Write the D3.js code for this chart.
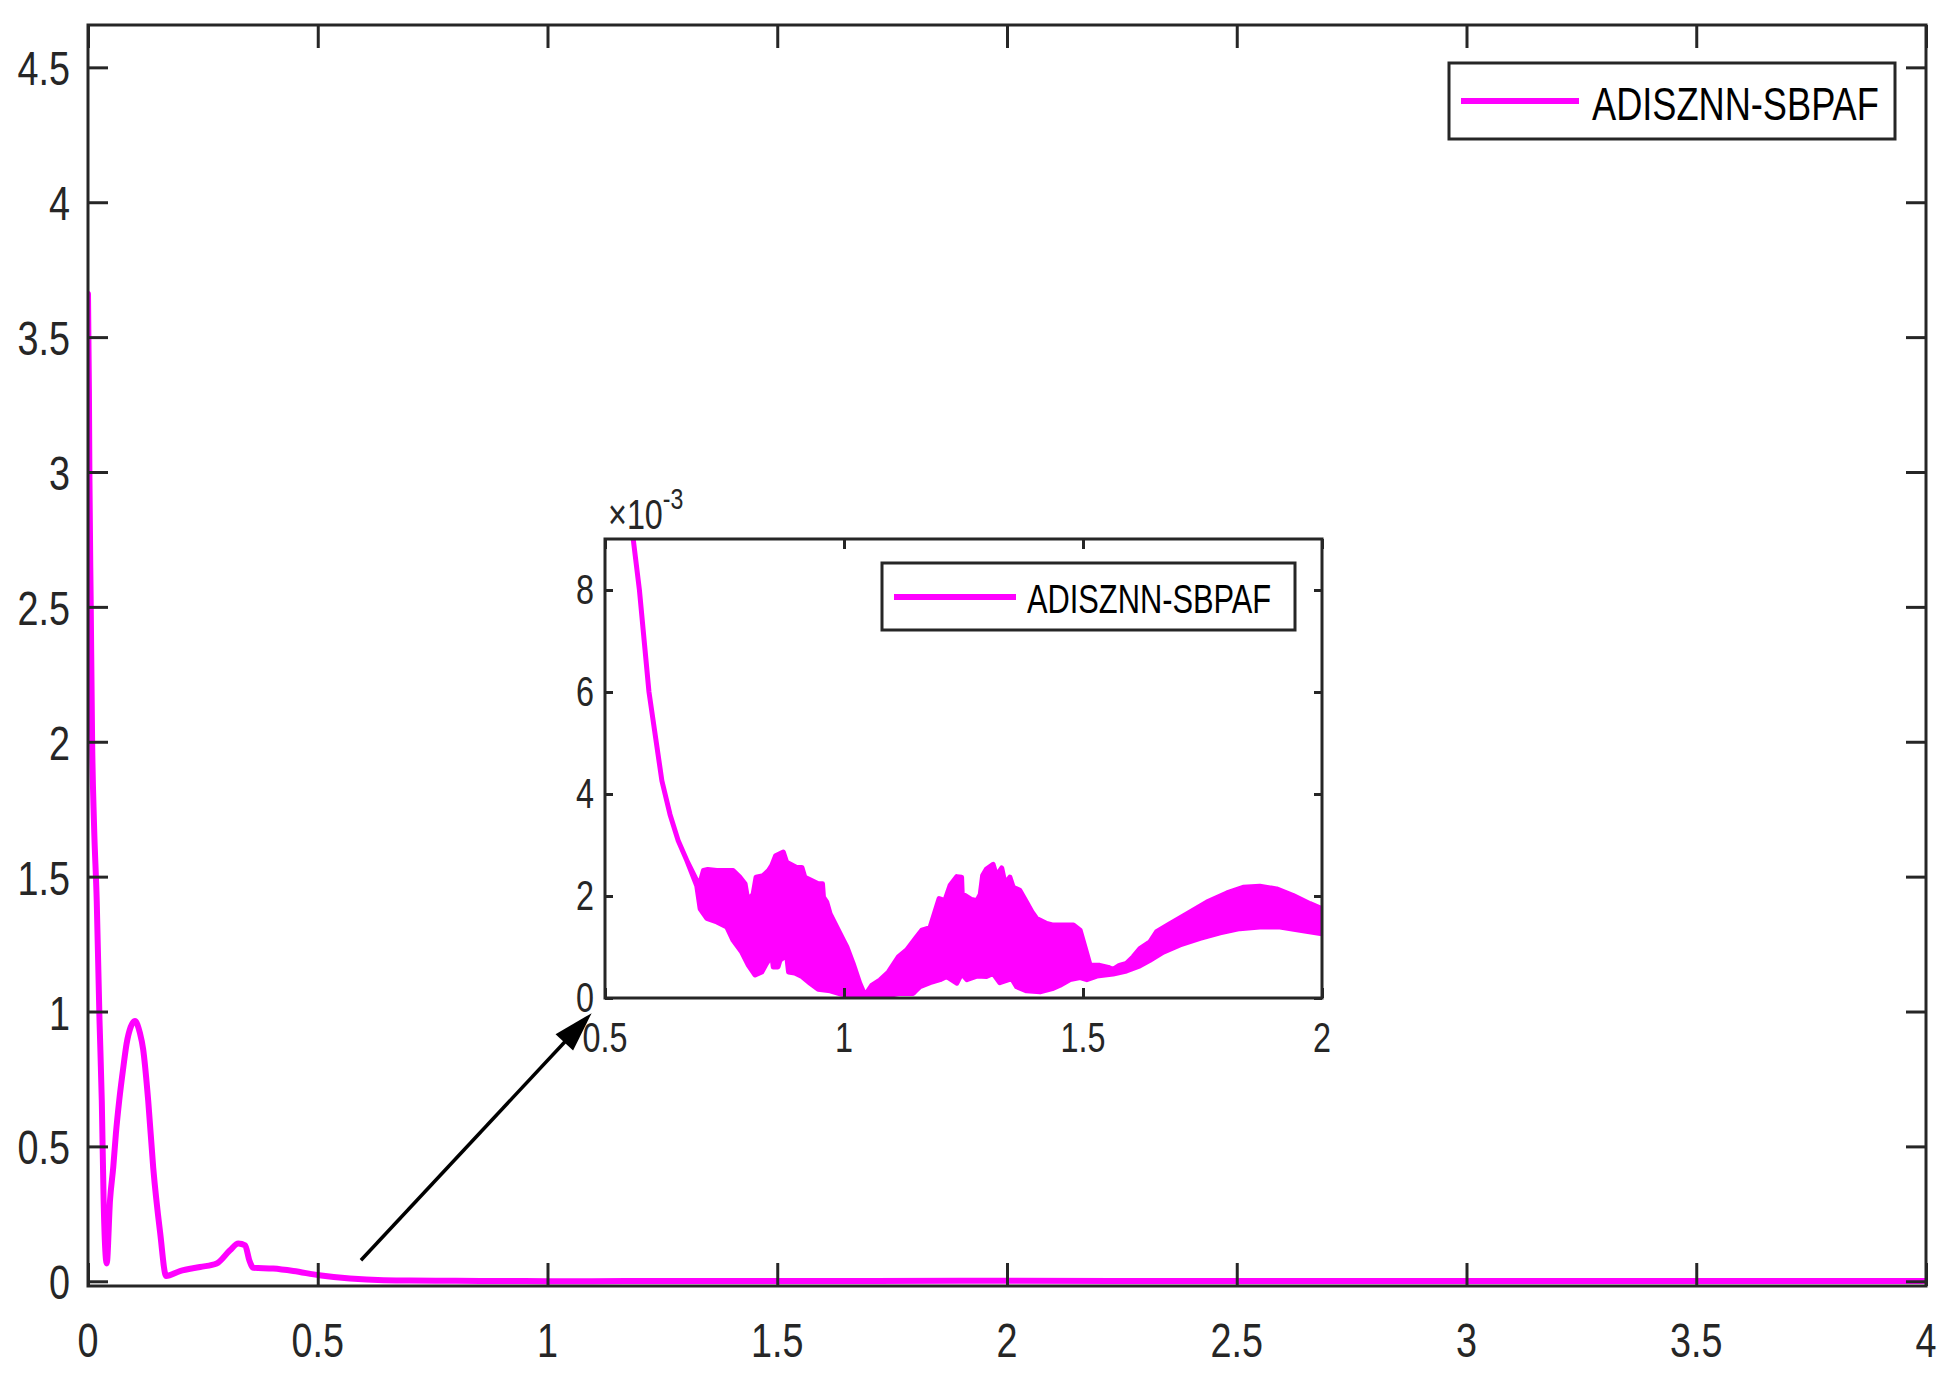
<!DOCTYPE html>
<html>
<head>
<meta charset="utf-8">
<script src="https://cdn.jsdelivr.net/npm/d3@7"></script>
<style>
  html, body { margin: 0; padding: 0; background: #fff; }
  svg { display: block; }
</style>
</head>
<body>
<svg id="chart" width="1950" height="1377"></svg>
<script>
// ---------------- DATA ----------------
const seriesName = "ADISZNN-SBPAF";

// main curve (time, value)
const mainT = [0, 0.002, 0.003, 0.006, 0.009, 0.013, 0.019, 0.025, 0.030, 0.034, 0.0407, 0.0479, 0.055, 0.0607, 0.068, 0.077, 0.084, 0.093, 0.102, 0.113, 0.120, 0.131, 0.142, 0.157, 0.170, 0.200, 0.244, 0.280, 0.309, 0.327, 0.342, 0.351, 0.360, 0.403, 0.447, 0.503, 0.570, 0.643, 0.700, 0.800, 0.900, 1.000, 1.050, 1.300, 1.500, 1.900, 2.500, 3.000, 3.500, 4.000];
const mainV = [3.66, 3.30, 3.00, 2.50, 2.00, 1.70, 1.41, 0.97, 0.67, 0.30, 0.066, 0.30, 0.424, 0.547, 0.671, 0.795, 0.881, 0.943, 0.965, 0.92, 0.86, 0.67, 0.42, 0.18, 0.020, 0.038, 0.053, 0.066, 0.115, 0.140, 0.133, 0.078, 0.050, 0.047, 0.038, 0.022, 0.010, 0.004, 0.003, 0.0018, 0.001, 0.0005, 0.0001, 0.0015, 0.001, 0.0018, 0.001, 0.001, 0.001, 0.001];

const mainXTicks = [0, 0.5, 1, 1.5, 2, 2.5, 3, 3.5, 4];
const mainYTicks = [0, 0.5, 1, 1.5, 2, 2.5, 3, 3.5, 4, 4.5];

// inset (values in units of 1e-3): upper and lower envelope of the oscillating band
const insetUpperT = [0.550, 0.559, 0.572, 0.592, 0.619, 0.636, 0.653, 0.671, 0.692, 0.700, 0.706, 0.715, 0.734, 0.768, 0.782, 0.793, 0.799, 0.810, 0.816, 0.831, 0.842, 0.849, 0.857, 0.873, 0.880, 0.901, 0.912, 0.918, 0.929, 0.946, 0.955, 0.957, 0.964, 0.971, 0.985, 0.999, 1.006, 1.019, 1.033, 1.044, 1.058, 1.075, 1.093, 1.114, 1.131, 1.152, 1.163, 1.180, 1.189, 1.199, 1.211, 1.222, 1.236, 1.246, 1.248, 1.253, 1.267, 1.278, 1.285, 1.290, 1.298, 1.312, 1.319, 1.330, 1.337, 1.347, 1.354, 1.368, 1.382, 1.393, 1.403, 1.424, 1.438, 1.480, 1.494, 1.504, 1.515, 1.535, 1.553, 1.563, 1.576, 1.591, 1.605, 1.619, 1.640, 1.654, 1.682, 1.717, 1.759, 1.801, 1.835, 1.870, 1.905, 1.940, 1.975, 2.000];
const insetUpperV = [9.6, 9.0, 8.0, 6.0, 4.26, 3.6, 3.09, 2.7, 2.3, 2.3, 2.5, 2.52, 2.5, 2.5, 2.37, 2.24, 1.91, 2.04, 2.37, 2.4, 2.5, 2.6, 2.79, 2.86, 2.66, 2.56, 2.56, 2.37, 2.32, 2.24, 2.24, 1.98, 1.88, 1.65, 1.39, 1.13, 1.0, 0.68, 0.29, 0.05, 0.25, 0.35, 0.51, 0.81, 0.94, 1.2, 1.33, 1.38, 1.65, 1.95, 1.91, 2.21, 2.38, 2.37, 1.86, 2.01, 1.93, 1.91, 2.03, 2.4, 2.53, 2.62, 2.4, 2.55, 2.24, 2.37, 2.17, 2.11, 1.88, 1.69, 1.56, 1.46, 1.43, 1.43, 1.33, 1.0, 0.64, 0.64, 0.60, 0.56, 0.64, 0.68, 0.81, 0.97, 1.1, 1.3, 1.46, 1.65, 1.88, 2.06, 2.17, 2.19, 2.14, 2.01, 1.85, 1.75];
const insetLowerT = [0.550, 0.559, 0.572, 0.592, 0.619, 0.636, 0.653, 0.671, 0.692, 0.699, 0.713, 0.734, 0.755, 0.768, 0.786, 0.800, 0.814, 0.828, 0.838, 0.849, 0.852, 0.862, 0.866, 0.880, 0.884, 0.897, 0.912, 0.929, 0.946, 0.971, 0.992, 1.019, 1.044, 1.068, 1.089, 1.117, 1.145, 1.152, 1.159, 1.180, 1.201, 1.215, 1.236, 1.246, 1.257, 1.278, 1.298, 1.312, 1.326, 1.351, 1.361, 1.382, 1.410, 1.438, 1.452, 1.473, 1.494, 1.508, 1.529, 1.563, 1.591, 1.619, 1.640, 1.668, 1.703, 1.745, 1.787, 1.828, 1.870, 1.912, 1.954, 2.000];
const insetLowerV = [9.6, 9.0, 8.0, 6.0, 4.26, 3.6, 3.09, 2.7, 2.2, 1.75, 1.56, 1.49, 1.39, 1.13, 0.9, 0.64, 0.45, 0.51, 0.68, 0.84, 0.61, 0.61, 0.74, 0.84, 0.51, 0.49, 0.42, 0.29, 0.17, 0.14, 0.08, 0.03, 0.0, 0.0, 0.04, 0.09, 0.09, 0.16, 0.22, 0.3, 0.36, 0.42, 0.29, 0.48, 0.36, 0.43, 0.42, 0.48, 0.3, 0.38, 0.22, 0.14, 0.12, 0.19, 0.25, 0.36, 0.40, 0.36, 0.43, 0.47, 0.53, 0.63, 0.74, 0.9, 1.04, 1.17, 1.28, 1.36, 1.39, 1.39, 1.33, 1.26];

const insetXTicks = [0.5, 1, 1.5, 2];
const insetYTicks = [0, 2, 4, 6, 8];
const insetExponent = "-3";

// arrow annotation in main data coordinates
const arrowFrom = [0.594, 0.078];
const arrowTo = [1.096, 0.994];

// ---------------- STYLE / LAYOUT ----------------
const MAG = "#ff00ff";
const AX = "#262626";
const FONT = "'Liberation Sans', Arial, Helvetica, sans-serif";
const SX = 0.77; // horizontal condensation of the font

const svg = d3.select("#chart");
const defs = svg.append("defs");

function txt(g, x, y, s, size, anchor, fill) {
  return g.append("text")
    .attr("transform", `translate(${x},${y}) scale(${SX},1)`)
    .attr("text-anchor", anchor || "middle")
    .attr("font-family", FONT)
    .attr("font-size", size)
    .attr("fill", fill || AX)
    .text(s);
}

function styleTicks(g, w) {
  g.select(".domain").remove();
  g.selectAll(".tick line").attr("stroke", AX).attr("stroke-width", w);
  g.selectAll(".tick text").remove();
}

// ---------------- MAIN AXES ----------------
const M = { left: 88, right: 1926, top: 25, bottom: 1286 };
const x = d3.scaleLinear().domain([0, 4]).range([M.left, M.right]);
const y = d3.scaleLinear().domain([-0.0175, 4.657]).range([M.bottom, M.top]);

defs.append("clipPath").attr("id", "mainClip")
  .append("rect").attr("x", M.left).attr("y", M.top)
  .attr("width", M.right - M.left).attr("height", M.bottom - M.top);

const mainData = mainT.map((t, i) => [t, mainV[i]]);
svg.append("path")
  .datum(mainData)
  .attr("clip-path", "url(#mainClip)")
  .attr("fill", "none")
  .attr("stroke", MAG)
  .attr("stroke-width", 6)
  .attr("stroke-linejoin", "round")
  .attr("stroke-linecap", "round")
  .attr("d", d3.line().x(d => x(d[0])).y(d => y(d[1])).curve(d3.curveMonotoneX));

const gxb = svg.append("g").attr("transform", `translate(0,${M.bottom})`)
  .call(d3.axisBottom(x).tickValues(mainXTicks).tickSizeInner(-23).tickSizeOuter(0));
styleTicks(gxb, 3);
const gxt = svg.append("g").attr("transform", `translate(0,${M.top})`)
  .call(d3.axisTop(x).tickValues(mainXTicks).tickSizeInner(-23).tickSizeOuter(0));
styleTicks(gxt, 3);
const gyl = svg.append("g").attr("transform", `translate(${M.left},0)`)
  .call(d3.axisLeft(y).tickValues(mainYTicks).tickSizeInner(-20).tickSizeOuter(0));
styleTicks(gyl, 3);
const gyr = svg.append("g").attr("transform", `translate(${M.right},0)`)
  .call(d3.axisRight(y).tickValues(mainYTicks).tickSizeInner(-20).tickSizeOuter(0));
styleTicks(gyr, 3);

const fmt = d3.format("");
const gLab = svg.append("g");
mainXTicks.forEach(v => txt(gLab, x(v), 1357, fmt(v), 49, "middle"));
mainYTicks.forEach(v => txt(gLab, 70, y(v) + 18, fmt(v), 49, "end"));

svg.append("rect")
  .attr("x", M.left).attr("y", M.top)
  .attr("width", M.right - M.left).attr("height", M.bottom - M.top)
  .attr("fill", "none").attr("stroke", AX).attr("stroke-width", 3);

// main legend
const L = { x: 1449, y: 63, w: 446, h: 76 };
svg.append("rect").attr("x", L.x).attr("y", L.y).attr("width", L.w).attr("height", L.h)
  .attr("fill", "#fff").attr("stroke", AX).attr("stroke-width", 3);
svg.append("line").attr("x1", L.x + 12).attr("x2", L.x + 130).attr("y1", L.y + 38).attr("y2", L.y + 38)
  .attr("stroke", MAG).attr("stroke-width", 6);
txt(svg, L.x + 143, L.y + 57, seriesName, 47, "start", "#000");

// ---------------- ARROW ----------------
const ax0 = x(arrowFrom[0]), ay0 = y(arrowFrom[1]);
const ax1 = x(arrowTo[0]), ay1 = y(arrowTo[1]);
const dx = ax1 - ax0, dy = ay1 - ay0, len = Math.hypot(dx, dy);
const ux = dx / len, uy = dy / len;
const headL = 40, headW = 12;
const bx = ax1 - ux * headL, by = ay1 - uy * headL;
svg.append("line").attr("x1", ax0).attr("y1", ay0).attr("x2", bx + ux * 4).attr("y2", by + uy * 4)
  .attr("stroke", "#000").attr("stroke-width", 3.5);
svg.append("path")
  .attr("d", `M${ax1},${ay1}L${bx - uy * headW},${by + ux * headW}L${bx + uy * headW},${by - ux * headW}Z`)
  .attr("fill", "#000");

// ---------------- INSET ----------------
const I = { left: 605, right: 1322, top: 539, bottom: 998 };
const xi = d3.scaleLinear().domain([0.5, 2]).range([I.left, I.right]);
const yi = d3.scaleLinear().domain([0, 9]).range([I.bottom, I.top]);

svg.append("rect").attr("x", I.left).attr("y", I.top)
  .attr("width", I.right - I.left).attr("height", I.bottom - I.top).attr("fill", "#fff");

defs.append("clipPath").attr("id", "insetClip")
  .append("rect").attr("x", I.left).attr("y", I.top)
  .attr("width", I.right - I.left).attr("height", I.bottom - I.top);

const upper = insetUpperT.map((t, i) => [t, insetUpperV[i]]);
const lower = insetLowerT.map((t, i) => [t, insetLowerV[i]]).reverse();
const band = upper.concat(lower);
const bandLine = d3.line().x(d => xi(d[0])).y(d => yi(d[1]));
svg.append("path")
  .attr("clip-path", "url(#insetClip)")
  .attr("fill", MAG)
  .attr("stroke", MAG)
  .attr("stroke-width", 5)
  .attr("stroke-linejoin", "round")
  .attr("d", bandLine(band) + "Z");

const gixb = svg.append("g").attr("transform", `translate(0,${I.bottom})`)
  .call(d3.axisBottom(xi).tickValues(insetXTicks).tickSizeInner(-10).tickSizeOuter(0));
styleTicks(gixb, 3);
const gixt = svg.append("g").attr("transform", `translate(0,${I.top})`)
  .call(d3.axisTop(xi).tickValues(insetXTicks).tickSizeInner(-10).tickSizeOuter(0));
styleTicks(gixt, 3);
const giyl = svg.append("g").attr("transform", `translate(${I.left},0)`)
  .call(d3.axisLeft(yi).tickValues(insetYTicks).tickSizeInner(-8).tickSizeOuter(0));
styleTicks(giyl, 3);
const giyr = svg.append("g").attr("transform", `translate(${I.right},0)`)
  .call(d3.axisRight(yi).tickValues(insetYTicks).tickSizeInner(-8).tickSizeOuter(0));
styleTicks(giyr, 3);

svg.append("rect")
  .attr("x", I.left).attr("y", I.top)
  .attr("width", I.right - I.left).attr("height", I.bottom - I.top)
  .attr("fill", "none").attr("stroke", AX).attr("stroke-width", 3);

insetXTicks.forEach(v => txt(svg, xi(v), 1052, fmt(v), 42, "middle"));
insetYTicks.forEach(v => txt(svg, 594, yi(v) + 14, fmt(v), 42, "end"));

// exponent label ×10^-3
const ex = svg.append("text")
  .attr("transform", `translate(608,529) scale(${SX},1)`)
  .attr("font-family", FONT).attr("font-size", 42).attr("fill", AX);
ex.append("tspan").text("\u00d710");
ex.append("tspan").attr("font-size", 30).attr("dy", -20).text(insetExponent);

// inset legend
const IL = { x: 882, y: 563, w: 413, h: 67 };
svg.append("rect").attr("x", IL.x).attr("y", IL.y).attr("width", IL.w).attr("height", IL.h)
  .attr("fill", "#fff").attr("stroke", AX).attr("stroke-width", 3);
svg.append("line").attr("x1", IL.x + 12).attr("x2", IL.x + 134).attr("y1", IL.y + 34).attr("y2", IL.y + 34)
  .attr("stroke", MAG).attr("stroke-width", 6);
txt(svg, IL.x + 145, IL.y + 50, seriesName, 40, "start", "#000");
</script>
</body>
</html>
